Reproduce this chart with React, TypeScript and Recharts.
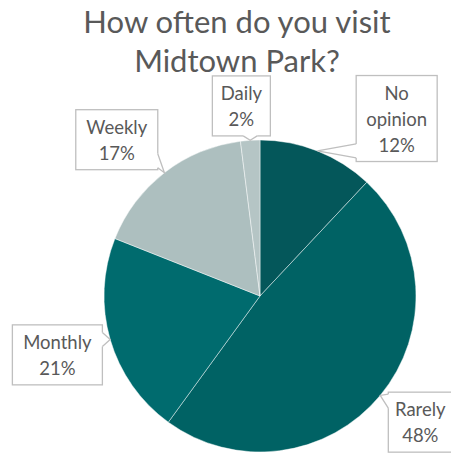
import React from 'react'
import { PieChart, Pie, Cell } from 'recharts'

const CATEGORIES = ['No opinion', 'Rarely', 'Monthly', 'Weekly', 'Daily']
const SHARES = [12, 48, 21, 17, 2]
const COLORS = ['#04575a', '#006264', '#006b6e', '#adbfbf', '#b5c5c5']

// where each callout box sits: radius / angle tweak from the slice middle, box width, text lines
const LABEL_LAYOUT: Record<string, { r: number; da: number; w: number; lines: string[] }> = {
  'No opinion': { r: 224, da: -16, w: 81, lines: ['No', 'opinion'] },
  Rarely: { r: 204, da: 1.4, w: 64, lines: ['Rarely'] },
  Monthly: { r: 211, da: 0, w: 90, lines: ['Monthly'] },
  Weekly: { r: 212, da: 4.7, w: 82, lines: ['Weekly'] },
  Daily: { r: 191, da: 2, w: 58, lines: ['Daily'] },
}

const FONT = 'Lato, "Open Sans", sans-serif'
const TEXT = '#595959'
const BORDER = '#bfbfbf'
const RAD = Math.PI / 180

const data = CATEGORIES.map((name, i) => ({ name, value: SHARES[i] }))

function CalloutLabel(props: any) {
  const { cx, cy, midAngle, outerRadius, name, value } = props
  const layout = LABEL_LAYOUT[name]
  const lines = [...layout.lines, `${value}%`]
  const lineH = 26
  const h = lines.length * lineH + 8
  const w = layout.w
  const a = (midAngle + layout.da) * RAD
  const bx = cx + layout.r * Math.cos(a)
  const by = cy - layout.r * Math.sin(a)
  const x0 = bx - w / 2
  const x1 = bx + w / 2
  const y0 = by - h / 2
  const y1 = by + h / 2

  // pointer tip on the slice edge
  const tx = cx + outerRadius * Math.cos(midAngle * RAD)
  const ty = cy - outerRadius * Math.sin(midAngle * RAD)

  const out = {
    left: x0 - tx,
    right: tx - x1,
    top: y0 - ty,
    bottom: ty - y1,
  }
  const side = (Object.keys(out) as (keyof typeof out)[]).reduce((best, k) =>
    out[k] > out[best] ? k : best
  )
  const half = 7
  const clamp = (v: number, lo: number, hi: number) => Math.max(lo, Math.min(hi, v))
  let b1: [number, number]
  let b2: [number, number]
  if (side === 'left' || side === 'right') {
    const ex = side === 'left' ? x0 : x1
    const my = clamp(ty, y0 + half + 2, y1 - half - 2)
    b1 = [ex, my - half]
    b2 = [ex, my + half]
  } else {
    const ey = side === 'top' ? y0 : y1
    const mx = clamp(tx, x0 + half + 2, x1 - half - 2)
    b1 = [mx - half, ey]
    b2 = [mx + half, ey]
  }

  const textTop = by - ((lines.length - 1) * lineH) / 2 + 7
  return (
    <g>
      <rect x={x0} y={y0} width={w} height={h} fill="#fff" stroke={BORDER} strokeWidth={1.3} />
      <line x1={b1[0]} y1={b1[1]} x2={b2[0]} y2={b2[1]} stroke="#fff" strokeWidth={3} />
      <path
        d={`M${b1[0]},${b1[1]} L${tx},${ty} L${b2[0]},${b2[1]}`}
        fill="#fff"
        stroke={BORDER}
        strokeWidth={1.3}
      />
      {lines.map((t, i) => (
        <text
          key={t}
          x={bx}
          y={textTop + i * lineH}
          textAnchor="middle"
          fontFamily={FONT}
          fontSize={18.5}
          fill={TEXT}
        >
          {t}
        </text>
      ))}
    </g>
  )
}

export default function App() {
  return (
    <div style={{ position: 'absolute', left: 0, top: 0, width: 451, height: 455, background: '#fff' }}>
      <div
        style={{
          position: 'absolute',
          left: 0,
          top: 2,
          width: 474,
          textAlign: 'center',
          fontFamily: FONT,
          fontSize: 31,
          lineHeight: '39px',
          color: TEXT,
          zIndex: 1,
        }}
      >
        How often do you visit
        <br />
        Midtown Park?
      </div>
      <PieChart
        width={451}
        height={455}
        margin={{ top: 0, right: 0, bottom: 0, left: 0 }}
        style={{ position: 'absolute', left: 0, top: 0 }}
      >
        <Pie
          data={data}
          dataKey="value"
          nameKey="name"
          cx={260}
          cy={296}
          outerRadius={156}
          startAngle={90}
          endAngle={-270}
          stroke="rgba(255,255,255,0.45)"
          strokeWidth={1}
          label={CalloutLabel}
          labelLine={false}
          isAnimationActive={false}
        >
          {data.map((d, i) => (
            <Cell key={d.name} fill={COLORS[i]} />
          ))}
        </Pie>
      </PieChart>
    </div>
  )
}
